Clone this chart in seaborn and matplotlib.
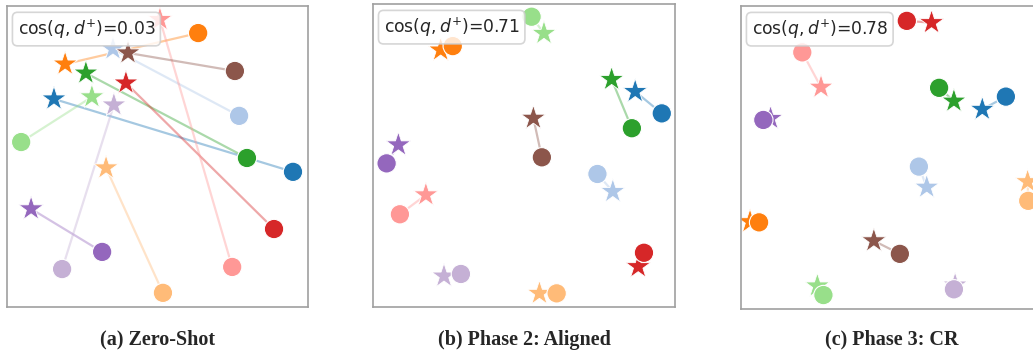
import matplotlib
matplotlib.use("Agg")
import matplotlib.pyplot as plt
import seaborn as sns
import pandas as pd

# pair index -> tab20 colour (0 blue, 1 light blue, 2 orange, ... 10 brown)
pairs = list(range(11))

# (a) Zero-Shot
zs_doc_x = [0.950, 0.771, 0.635, 0.518, 0.797, 0.047, 0.887, 0.748, 0.316, 0.183, 0.757]
zs_doc_y = [0.449, 0.635, 0.910, 0.047, 0.495, 0.548, 0.259, 0.133, 0.183, 0.126, 0.784]
zs_qry_x = [0.156, 0.352, 0.193, 0.329, 0.262, 0.282, 0.395, 0.508, 0.080, 0.355, 0.402]
zs_qry_y = [0.691, 0.857, 0.807, 0.462, 0.777, 0.698, 0.744, 0.955, 0.326, 0.671, 0.844]

# (b) Phase 2: Aligned
al_doc_x = [0.956, 0.743, 0.264, 0.608, 0.857, 0.525, 0.897, 0.089, 0.045, 0.291, 0.559]
al_doc_y = [0.639, 0.439, 0.861, 0.045, 0.590, 0.958, 0.179, 0.306, 0.474, 0.109, 0.494]
al_qry_x = [0.868, 0.794, 0.224, 0.551, 0.790, 0.566, 0.878, 0.175, 0.084, 0.235, 0.531]
al_qry_y = [0.711, 0.381, 0.848, 0.045, 0.751, 0.903, 0.133, 0.370, 0.535, 0.102, 0.623]

# (c) Phase 3: CR
cr_doc_x = [0.877, 0.589, 0.060, 0.951, 0.656, 0.273, 0.549, 0.203, 0.074, 0.705, 0.526]
cr_doc_y = [0.701, 0.470, 0.286, 0.357, 0.730, 0.046, 0.951, 0.847, 0.624, 0.065, 0.182]
cr_qry_x = [0.799, 0.615, 0.030, 0.949, 0.705, 0.253, 0.631, 0.265, 0.098, 0.709, 0.440]
cr_qry_y = [0.659, 0.402, 0.288, 0.420, 0.686, 0.076, 0.945, 0.732, 0.629, 0.079, 0.225]

cos_values = ["0.03", "0.71", "0.78"]
captions = ["(a) Zero-Shot", "(b) Phase 2: Aligned", "(c) Phase 3: CR"]

panels = [
    (zs_doc_x, zs_doc_y, zs_qry_x, zs_qry_y),
    (al_doc_x, al_doc_y, al_qry_x, al_qry_y),
    (cr_doc_x, cr_doc_y, cr_qry_x, cr_qry_y),
]

sns.set_style("white")
palette = sns.color_palette("tab20", 20)[:11]

fig = plt.figure(figsize=(10.33, 3.54), dpi=100)
ax_rects = [
    [0.0068, 0.1328, 0.2914, 0.8503],
    [0.3611, 0.1328, 0.2924, 0.8559],
    [0.7173, 0.1271, 0.2924, 0.8559],
]

for rect, (dx, dy, qx, qy), cosv, cap in zip(ax_rects, panels, cos_values, captions):
    ax = fig.add_axes(rect)
    docs = pd.DataFrame({"x": dx, "y": dy, "pair": pairs})
    qrys = pd.DataFrame({"x": qx, "y": qy, "pair": pairs})

    # connecting lines
    for i in pairs:
        ax.plot([dx[i], qx[i]], [dy[i], qy[i]], color=palette[i], alpha=0.4, lw=1.6, zorder=1)

    sns.scatterplot(data=qrys, x="x", y="y", hue="pair", palette=palette, marker="*",
                    s=350, edgecolor="white", linewidth=0.6, legend=False, ax=ax, zorder=2)
    sns.scatterplot(data=docs, x="x", y="y", hue="pair", palette=palette, marker="o",
                    s=195, edgecolor="white", linewidth=0.8, legend=False, ax=ax, zorder=3)

    ax.set_xlim(0, 1)
    ax.set_ylim(0, 1)
    ax.set_xticks([])
    ax.set_yticks([])
    ax.set_xlabel("")
    ax.set_ylabel("")
    for sp in ax.spines.values():
        sp.set_color("#a0a0a0")
        sp.set_linewidth(1.2)

    ax.text(0.035, 0.962, r"$\cos(q, d^{+})$=" + cosv, transform=ax.transAxes,
            ha="left", va="top", fontsize=12.3, zorder=5,
            bbox=dict(boxstyle="round,pad=0.3", fc="white", ec="#cccccc", lw=1.2, alpha=0.8))

    cx = rect[0] + rect[2] / 2
    fig.text(cx, 0.04, cap, ha="center", va="center", fontsize=14.5,
             fontweight="bold", family="Liberation Serif")

fig.savefig("out.png", dpi=100)
